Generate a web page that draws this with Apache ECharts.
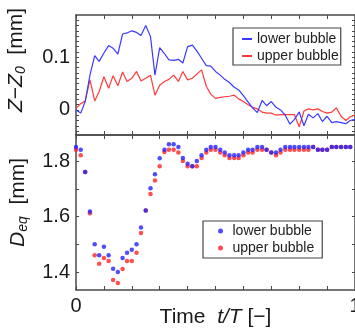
<!DOCTYPE html>
<html><head><meta charset="utf-8">
<script src="https://cdn.jsdelivr.net/npm/echarts@6/dist/echarts.min.js"></script>
<style>html,body{margin:0;padding:0;background:#fff}#c{width:355px;height:333px}</style>
</head><body><div id="c"></div>
<script>
// time samples t/T
const tTop = [0,0.017,0.033,0.05,0.067,0.083,0.1,0.117,0.133,0.15,0.167,0.183,0.2,0.217,0.233,0.25,0.267,0.283,0.3,0.317,0.333,0.35,0.367,0.383,0.4,0.417,0.433,0.45,0.467,0.483,0.5,0.517,0.533,0.55,0.567,0.583,0.6,0.617,0.633,0.65,0.667,0.683,0.7,0.717,0.733,0.75,0.767,0.783,0.8,0.817,0.833,0.85,0.867,0.883,0.9,0.917,0.933,0.95,0.967,0.983,1.0];
// Z - Z0 [mm]
const lowerZ = [0,-0.006,0.016,0.066,0.103,0.092,0.108,0.122,0.117,0.106,0.144,0.146,0.150,0.147,0.141,0.160,0.139,0.066,0.118,0.107,0.095,0.094,0.096,0.089,0.120,0.123,0.112,0.098,0.084,0.083,0.073,0.066,0.058,0.052,0.043,0.038,0.027,0.015,0.004,-0.005,0.018,0.008,0.016,0.005,0.000,-0.010,-0.027,-0.018,-0.004,-0.030,-0.008,-0.015,-0.007,-0.022,-0.012,-0.024,-0.022,-0.024,-0.026,-0.020,-0.018];
const upperZ = [0.003,0.012,0.017,0.057,0.017,0.035,0.063,0.041,0.065,0.046,0.072,0.054,0.060,0.073,0.055,0.060,0.066,0.028,0.047,0.054,0.058,0.066,0.054,0.073,0.057,0.060,0.068,0.076,0.045,0.030,0.022,0.024,0.025,0.026,0.028,0.021,0.016,0.010,0.005,0.002,-0.004,-0.006,-0.006,-0.010,-0.009,-0.009,-0.009,-0.009,-0.032,-0.002,0.002,0.000,0.002,-0.003,-0.006,-0.004,0.004,-0.012,-0.020,-0.013,-0.010];
const tBottom = [0,0.017,0.033,0.05,0.067,0.083,0.1,0.117,0.133,0.15,0.167,0.183,0.2,0.217,0.233,0.25,0.267,0.283,0.3,0.317,0.333,0.35,0.367,0.383,0.4,0.417,0.433,0.45,0.467,0.483,0.5,0.517,0.533,0.55,0.567,0.583,0.6,0.617,0.633,0.65,0.667,0.683,0.7,0.717,0.733,0.75,0.767,0.783,0.8,0.817,0.833,0.85,0.867,0.883,0.9,0.917,0.933,0.95,0.967,0.983];
// D_eq [mm]
const lowerD = [1.852,1.842,1.761,1.619,1.500,1.461,1.491,1.461,1.412,1.400,1.451,1.470,1.480,1.500,1.561,1.622,1.703,1.753,1.811,1.842,1.862,1.862,1.852,1.812,1.791,1.782,1.801,1.822,1.842,1.852,1.852,1.842,1.832,1.822,1.822,1.822,1.832,1.842,1.842,1.852,1.852,1.842,1.832,1.832,1.842,1.852,1.852,1.852,1.852,1.852,1.852,1.852,1.842,1.842,1.842,1.852,1.852,1.852,1.852,1.852];
const upperD = [1.842,1.822,1.761,1.612,1.461,1.430,1.451,1.440,1.371,1.360,1.411,1.440,1.440,1.470,1.541,1.622,1.682,1.731,1.782,1.834,1.842,1.842,1.832,1.801,1.782,1.782,1.782,1.812,1.832,1.842,1.842,1.832,1.822,1.812,1.812,1.812,1.822,1.832,1.832,1.842,1.842,1.842,1.832,1.822,1.832,1.842,1.842,1.842,1.842,1.842,1.842,1.852,1.842,1.842,1.842,1.852,1.852,1.852,1.852,1.852];
// ticks and labels
const tTicks = [0,0.1,0.2,0.3,0.4,0.5,0.6,0.7,0.8,0.9,1];
const tLabels = [0,1];
const zTicks = [-0.04,-0.03,-0.02,-0.01,0,0.01,0.02,0.03,0.04,0.05,0.06,0.07,0.08,0.09,0.1,0.11,0.12,0.13,0.14,0.15,0.16,0.17];
const zLabels = [0,0.1];
const dTicks = [1.4,1.5,1.6,1.7,1.8];
const dLabels = [1.4,1.6,1.8];
const seriesNames = ['lower bubble','upper bubble'];

const FONT = 'Liberation Sans, Arial, sans-serif';
const AX = '#4a4a4a';
const BLUE = '#3a3aff', RED = '#ff3a3a';
const chart = echarts.init(document.getElementById('c'), null, {renderer:'canvas'});

function xAx(grid, pos, showLabel){
  return {type:'value', gridIndex:grid, position:pos, min:0, max:1,
    axisLine:{show:true, onZero:false, lineStyle:{color:AX, width:1.5}},
    axisTick:{show:true, inside:true, length:4, customValues:tTicks, lineStyle:{color:AX}},
    axisLabel:{show:showLabel, customValues:tLabels, fontSize:20, fontFamily:FONT, color:'#1a1a1a', margin:6},
    splitLine:{show:false}};
}
function yAx(grid, pos, min, max, ticks, labels, showLabel){
  return {type:'value', gridIndex:grid, position:pos, min:min, max:max,
    axisLine:{show:true, onZero:false, lineStyle:{color:AX, width:1.5}},
    axisTick:{show:true, inside:true, length:3, customValues:ticks, lineStyle:{color:AX}},
    axisLabel:{show:showLabel, customValues:labels, fontSize:20, fontFamily:FONT, color:'#1a1a1a', margin:6},
    splitLine:{show:false}};
}
const nameRich = {
  i:{fontStyle:'italic', fontSize:21, fontFamily:FONT, color:'#1a1a1a', lineHeight:24},
  s:{fontStyle:'italic', fontSize:14, fontFamily:FONT, color:'#1a1a1a', verticalAlign:'bottom', lineHeight:14},
  n:{fontSize:21, fontFamily:FONT, color:'#1a1a1a', lineHeight:24}
};

const y0 = yAx(0,'left',-0.0475,0.18,zTicks,zLabels,true);
y0.name = '{i|Z}{n|\u2212}{i|Z}{s|0}{n|  [mm]}';
y0.nameLocation='middle'; y0.nameRotate=90; y0.nameGap=48; y0.nameMoveOverlap=false;
y0.nameTextStyle={rich:nameRich, fontSize:21, fontFamily:FONT, padding:[0,0,0,30]};
const y2 = yAx(1,'left',1.335,1.895,dTicks,dLabels,true);
y2.name = '{i|D}{s|eq}{n|  [mm]}';
y2.nameLocation='middle'; y2.nameRotate=90; y2.nameGap=46; y2.nameMoveOverlap=false;
y2.nameTextStyle={rich:nameRich, fontSize:21, fontFamily:FONT, padding:[0,0,0,20]};
const x2 = xAx(1,'bottom',true);
x2.name = '{n|Time  }{i|t/T}{n| [\u2212]}';
x2.nameLocation='middle'; x2.nameGap=17; x2.nameMoveOverlap=false;
x2.nameTextStyle={rich:{i:{fontStyle:'italic',fontSize:21,fontFamily:FONT,color:'#1a1a1a'}, n:{fontSize:21,fontFamily:FONT,color:'#1a1a1a'}}};

chart.setOption({
  animation:false,
  backgroundColor:'#fff',
  grid:[{left:76, right:0, top:15, height:120, containLabel:false, outerBoundsMode:'none'},
        {left:76, right:0, top:135, height:155, containLabel:false, outerBoundsMode:'none'}],
  xAxis:[xAx(0,'bottom',false), xAx(0,'top',false), x2, xAx(1,'top',false)],
  yAxis:[y0, yAx(0,'right',-0.0475,0.18,zTicks,zLabels,false), y2, yAx(1,'right',1.335,1.895,dTicks,dLabels,false)],
  legend:[
    {data:seriesNames, orient:'vertical', left:233, top:28, padding:[4,2,2,9], itemGap:3,
     itemWidth:10, itemHeight:2, icon:'rect', borderColor:'#444', borderWidth:1.2, backgroundColor:'#fff',
     textStyle:{fontSize:14, fontFamily:FONT, color:'#222'}},
    {data:seriesNames.map(n=>n+' '), orient:'vertical', left:203, top:221, padding:[3,8,3,15], itemGap:3,
     itemWidth:14, itemHeight:5, icon:'circle', borderColor:'#444', borderWidth:1.2, backgroundColor:'#fff',
     formatter:n=>n.trim(), textStyle:{fontSize:14, fontFamily:FONT, color:'#222'}}
  ],
  series:[
    {name:seriesNames[1], type:'line', xAxisIndex:0, yAxisIndex:0, showSymbol:false, symbol:'none',
     data:tTop.map((t,i)=>[t,upperZ[i]]), lineStyle:{color:RED, width:1.2}, itemStyle:{color:RED}},
    {name:seriesNames[0], type:'line', xAxisIndex:0, yAxisIndex:0, showSymbol:false, symbol:'none',
     data:tTop.map((t,i)=>[t,lowerZ[i]]), lineStyle:{color:BLUE, width:1.2}, itemStyle:{color:BLUE}},
    {name:seriesNames[1]+' ', type:'scatter', xAxisIndex:2, yAxisIndex:2, symbolSize:4.5,
     data:tBottom.map((t,i)=>[t,upperD[i]]), itemStyle:{color:'#ff2222'}},
    {name:seriesNames[0]+' ', type:'scatter', xAxisIndex:2, yAxisIndex:2, symbolSize:4.5,
     data:tBottom.map((t,i)=>[t,lowerD[i]]), itemStyle:{color:'#2222ff'}}
  ]
});
</script></body></html>
